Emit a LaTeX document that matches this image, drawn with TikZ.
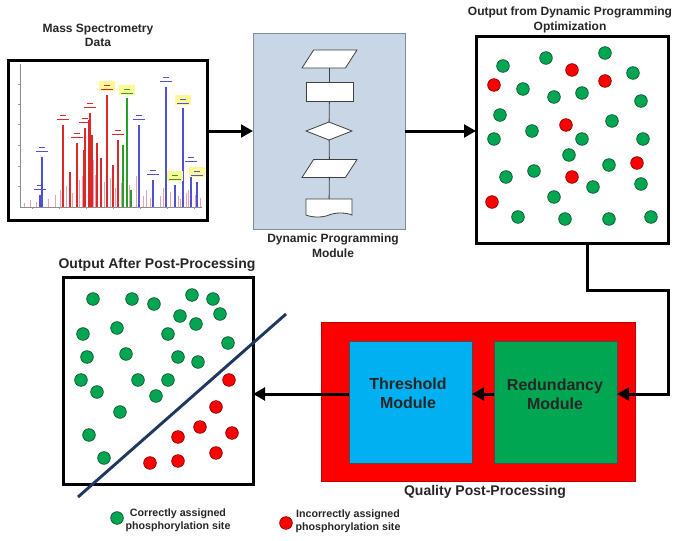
\documentclass[tikz,border=0pt]{standalone}
\usepackage{fontspec}
\setmainfont{Liberation Sans}
\usetikzlibrary{arrows.meta,shapes.geometric,shapes.symbols}

\definecolor{dpfill}{RGB}{201,214,230}
\definecolor{dpline}{RGB}{128,140,156}
\definecolor{okgreen}{RGB}{0,166,81}
\definecolor{okline}{RGB}{20,80,45}
\definecolor{badred}{RGB}{255,0,0}
\definecolor{badline}{RGB}{130,0,0}
\definecolor{thrblue}{RGB}{0,176,240}
\definecolor{navyline}{RGB}{31,56,96}
\definecolor{specred}{RGB}{220,40,40}
\definecolor{specblue}{RGB}{80,80,210}
\definecolor{specgreen}{RGB}{40,160,40}
\definecolor{specpink}{RGB}{235,160,180}
\definecolor{specyellow}{RGB}{255,248,150}

\tikzset{
  framebox/.style={draw, line width=2.25pt, fill=white, inner sep=0pt, outer sep=0pt},
  flowline/.style={draw=black!75, line width=0.6pt},
  flowshape/.style={flowline, fill=white, inner sep=0pt, outer sep=0pt},
  flowpara/.style={flowline, fill=white, inner sep=2pt, outer sep=0pt, trapezium,
    trapezium left angle=70, trapezium right angle=110, trapezium stretches=true,
    minimum width=41.25pt, minimum height=13.5pt},
  bigarrow/.style={line width=2.25pt, -{Triangle[length=9pt,width=9.5pt]}},
  okdot/.style={circle, draw=okline, fill=okgreen, line width=0.5pt, minimum size=9.5pt, inner sep=0pt},
  baddot/.style={circle, draw=badline, fill=badred, line width=0.5pt, minimum size=9.5pt, inner sep=0pt},
  caption/.style={font=\bfseries\fontsize{9}{11}\selectfont, align=center, text=black!85},
  bigcaption/.style={font=\bfseries\fontsize{10.5}{13}\selectfont, align=center, text=black!85},
  modtext/.style={font=\bfseries\fontsize{12}{14.5}\selectfont, align=center, text=black!85},
  legtext/.style={font=\bfseries\fontsize{8}{10}\selectfont, align=center, text=black!85},
  modbox/.style={draw=black!70, line width=0.6pt, inner sep=0pt, outer sep=0pt,
    minimum width=92.25pt, minimum height=91.5pt}
}

\begin{document}
\begin{tikzpicture}[x=0.75pt,y=0.75pt,yscale=-1,xscale=1]
\useasboundingbox (0,0) rectangle (682,540);

% Mass spectrometry data
\node[framebox, minimum width=149.25pt, minimum height=120pt] (spec) at (107.5,140) {};
\draw[black!45, line width=0.4pt] (20,64) -- (20,207) -- (202,207);
\foreach \y in {84,104,124,145,166,186}
  \draw[black!40, line width=0.3pt] (18,\y) -- (20,\y);
\foreach \x in {32,59,86,113,140,167,194}
  \draw[black!40, line width=0.3pt] (\x,207) -- (\x,209);
\foreach \x/\y in {24/203,30/200,36/202,48/199,55/195,60/190,66/186,72/193,79/180,82/176,88/170,93/160,95/175,
    101/170,104/182,110/178,115/188,121/183,129/185,136/176,143/196,146/190,150/198,160/196,163/188,170/192,
    178/196,180/199,186/193,188/190,195/195,200/198}
  \draw[specpink, line width=0.6pt] (\x,207) -- (\x,\y);
\foreach \x/\y in {63/125,70/172,77/143,84/150,85/128,89/120,90/113,92/135,97/143,101/158,107/95,113/165,118/140}
  \draw[specred, line width=0.8pt] (\x,207) -- (\x,\y);
\foreach \x/\y in {127/98,123/145,131/190}
  \draw[specgreen, line width=0.8pt] (\x,207) -- (\x,\y);
\foreach \x/\y in {42/157,40/195,139/125,153/180,166/87,175/185,183/108,191/167,197/182}
  \draw[specblue, line width=0.8pt] (\x,207) -- (\x,\y);
% peak annotations
\foreach \x/\y in {107/90,127/94,183/104,175/180,197/176}
  \fill[specyellow] (\x-8,\y-9) rectangle (\x+8,\y+1);
\foreach \x/\y/\c in {63/121/specred,77/139/specred,85/124/specred,90/109/specred,107/91/specred,118/136/specred,
    127/95/specgreen,42/153/specblue,40/191/specblue,139/121/specblue,153/176/specblue,166/83/specblue,
    175/181/specgreen,183/105/specblue,191/163/specblue,197/177/specblue}
{
  \draw[\c, line width=0.7pt] (\x-3,\y-6) -- (\x+3,\y-6);
  \draw[\c, line width=0.7pt] (\x-6,\y-2) -- (\x+6,\y-2);
}

% Text Node
\node[caption] (spectitle) at (98,35.5) {Mass Spectrometry\\Data};

% Dynamic programming module
\node[draw=dpline, fill=dpfill, line width=0.75pt, inner sep=0pt, outer sep=0pt,
  minimum width=114pt, minimum height=147pt] (dp) at (329,131) {};
\node[flowpara] (fin) at (329.5,59) {};
\node[flowshape, rectangle, minimum width=35.25pt, minimum height=14.25pt] (fproc) at (329.5,91.5) {};
\node[flowshape, diamond, minimum width=34.5pt, minimum height=13.5pt] (fdec) at (329,131) {};
\node[flowpara] (fout) at (329.5,168.5) {};
\node[flowshape, tape, tape bend top=none, tape bend height=3pt,
  minimum width=34.5pt, minimum height=13.5pt] (fdoc) at (329,206) {};
\draw[flowline] (fin) -- (fproc);
\draw[flowline] (fproc) -- (fdec);
\draw[flowline] (fdec) -- (fout);
\draw[flowline] (fout) -- (fdoc);

% Text Node
\node[caption] (dptitle) at (333,246) {Dynamic Programming\\Module};

% Output from dynamic programming
\node[framebox, minimum width=144pt, minimum height=155.25pt] (dpout) at (572,139.5) {};
\foreach \x/\y [count=\i] in {503/66,546/58,605/53,633/73,523/89,554/97,582/93,641/101,500/115,612/121,
    532/131,494/139,582/139,643/139,569/155,609/165,534/171,506/177,593/187,641/184,554/197,518/217,
    565/219,609/219,651/217}
  \node[okdot] (ga\i) at (\x,\y) {};
\foreach \x/\y [count=\i] in {572/70,494/85,605/81,566/125,637/163,572/177,492/202}
  \node[baddot] (ba\i) at (\x,\y) {};

% Text Node
\node[caption] (dpouttitle) at (570,20) {Output from Dynamic Programming\\Optimization};

% Quality post-processing
\node[draw=red!75!black, fill=badred, line width=0.4pt, inner sep=0pt, outer sep=0pt,
  minimum width=235.5pt, minimum height=119.25pt] (qpp) at (478,401.5) {};
\node[modbox, fill=thrblue] (thr) at (410.5,402) {};
\node[modbox, fill=okgreen] (red) at (555.5,402) {};
\node[modtext] (thrlab) at (408,393) {Threshold\\Module};
\node[modtext] (redlab) at (555,394.5) {Redundancy\\Module};

% Text Node
\node[bigcaption] (qpptitle) at (485,492) {Quality Post-Processing};

% Output after post-processing
\node[framebox, minimum width=142.5pt, minimum height=155.25pt] (ppout) at (158,380.5) {};
\foreach \x/\y [count=\i] in {93/299,132/299,154/304,192/295,213/299,180/316,196/324,220/314,83/334,117/328,
    168/334,228/343,87/357,126/354,178/357,198/362,81/380,138/380,168/380,97/392,156/396,120/412,89/435,104/458}
  \node[okdot] (gb\i) at (\x,\y) {};
\foreach \x/\y [count=\i] in {229/380,216/407,200/427,178/437,232/433,216/453,178/461,150/463}
  \node[baddot] (bb\i) at (\x,\y) {};
\coordinate (cutlo) at (78,497);
\coordinate (cuthi) at (286,314);
\draw[navyline, line width=2.2pt] (cutlo) -- (cuthi);

% Text Node
\node[bigcaption] (ppouttitle) at (157,265) {Output After Post-Processing};

% Connectors
\coordinate (lvl) at (0,394);
\coordinate (k1) at (587,290);
\coordinate (k2) at (668,290);
\draw[bigarrow] (spec.east |- dp.west) -- (dp.west);
\draw[bigarrow] (dp.east) -- (dp.east -| dpout.west);
\draw[bigarrow] (dpout.south -| k1) -- (k1) -- (k2) |- (red.east |- lvl);
\draw[bigarrow] (red.west |- lvl) -- (thr.east |- lvl);
\draw[bigarrow] (thr.west |- lvl) -- (ppout.east |- lvl);

% Legend
\node[okdot] (legok) at (117,518) {};
\node[legtext] (legoktext) at (178,520.5) {Correctly assigned\\phosphorylation site};
\node[baddot] (legbad) at (286,523) {};
\node[legtext] (legbadtext) at (348,521.5) {Incorrectly assigned\\phosphorylation site};

\end{tikzpicture}
\end{document}
